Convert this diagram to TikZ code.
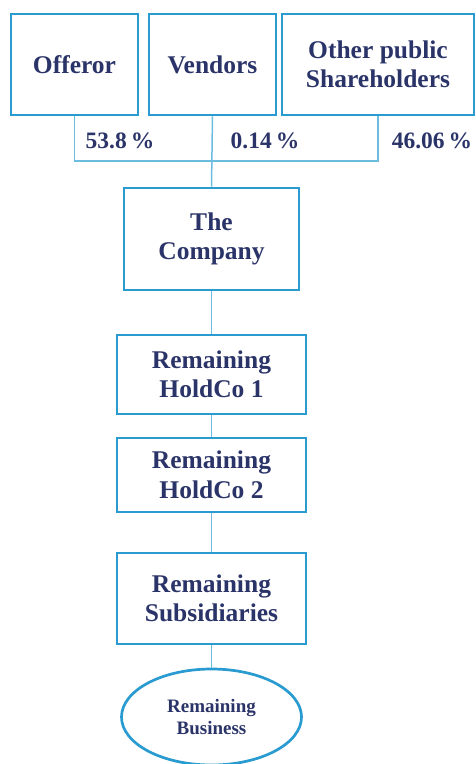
\documentclass[tikz,border=0pt]{standalone}
\usepackage{fontspec}
\setmainfont{Liberation Serif}
\usetikzlibrary{shapes.geometric}
\definecolor{bordcol}{HTML}{2A9BD0}
\definecolor{conncol}{HTML}{6CBCE0}
\definecolor{txtcol}{HTML}{2B3468}
\begin{document}
\begin{tikzpicture}[x=1pt,y=-1pt,
  box/.style={draw=bordcol,line width=2.7pt,rectangle,inner sep=0pt,align=center,text=txtcol,font=\fontsize{25.5}{29.5}\selectfont\bfseries},
  pct/.style={inner sep=0pt,text=txtcol,font=\fontsize{23.5}{28}\selectfont\bfseries},
  connline/.style={draw=conncol,line width=1.5pt}]
\useasboundingbox (0,0) rectangle (475,764);
\node[box,minimum width=127pt,minimum height=101pt] (off) at (74.5,64.5) {Offeror};
\node[box,minimum width=127pt,minimum height=101pt] (ven) at (212.5,64.5) {Vendors};
\node[box,minimum width=192pt,minimum height=101pt] (oth) at (378,64.5) {Other public\\Shareholders};
\coordinate (j) at (212,161);
\draw[connline] (off.south) -- (off.south |- j) -- (oth.south |- j) -- (oth.south);
\node[pct] (p1) at (120,141) {53.8\,\%};
\node[pct] (p2) at (265,141) {0.14\,\%};
\node[pct] (p3) at (432,141) {46.06\,\%};
\node[box,minimum width=175pt,minimum height=102pt] (co) at (211.5,239) {The\\Company};
\node[box,minimum width=189pt,minimum height=79pt] (h1) at (211.5,374.5) {Remaining\\HoldCo 1};
\node[box,minimum width=189pt,minimum height=74pt] (h2) at (211.5,475) {Remaining\\HoldCo 2};
\node[box,minimum width=189pt,minimum height=91pt] (sub) at (211.5,598.5) {Remaining\\Subsidiaries};
\node[ellipse,draw=bordcol,line width=2.7pt,inner sep=0pt,minimum width=180pt,minimum height=96pt,align=center,text=txtcol,font=\fontsize{19}{22}\selectfont\bfseries] (bus) at (211.5,717) {Remaining\\Business};
\draw[connline] (ven.south) -- (co.north);
\draw[connline] (co.south) -- (h1.north);
\draw[connline] (h1.south) -- (h2.north);
\draw[connline] (h2.south) -- (sub.north);
\draw[connline] (sub.south) -- (bus.north);
\end{tikzpicture}
\end{document}
